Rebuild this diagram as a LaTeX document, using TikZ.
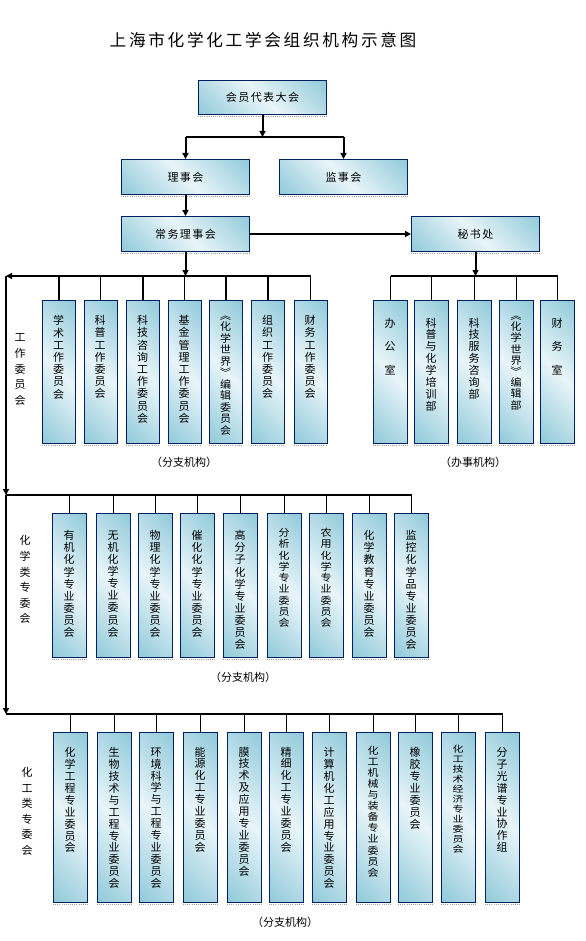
\documentclass[tikz,border=0pt]{standalone}
\usepackage{fontspec}
\usepackage{graphicx}
\usetikzlibrary{arrows.meta,calc}
\newfontfamily\cjk{Noto Sans CJK SC}
\newfontfamily\cjkh[LetterSpace=13]{Noto Sans CJK SC}
\newfontfamily\cjkt[LetterSpace=16]{Noto Sans CJK SC}
\definecolor{bdark}{RGB}{146,202,218}
\definecolor{blight}{RGB}{232,245,249}
\definecolor{bborder}{RGB}{0,32,96}
\pgfdeclarehorizontalshading{boxshade}{100bp}{color(0bp)=(bdark); color(15bp)=(bdark); color(50bp)=(blight); color(85bp)=(bdark); color(100bp)=(bdark)}
\def\vtextstop{VTEXTSTOP}
\def\vys{1}
\newcommand\vlq{\rotatebox[origin=c]{-90}{《}}
\newcommand\vrq{\rotatebox[origin=c]{-90}{》}}
\def\vtextloop#1{\ifx\vtextstop#1\relax\else\hbox to 1em{\vrule height .8em depth .2em width 0pt\hss\scalebox{1}[\vys]{#1}\hss}\expandafter\vtextloop\fi}
\newcommand\vtext[2][8.93pt]{\vbox{\baselineskip=#1\relax\lineskiplimit=-\maxdimen\lineskip=0pt\vtextloop#2\vtextstop}}
\tikzset{
  box/.style={draw=bborder, line width=0.75pt, shade, shading=boxshade, shading angle=45, inner sep=0pt},
  shadowline/.style={gray!75, densely dotted, line width=0.6pt},
  vtxt/.style={inner sep=0pt, font=\cjk\fontsize{8.25pt}{9pt}\selectfont},
  vlab/.style={inner sep=0pt, font=\cjk\fontsize{8.25pt}{9pt}\selectfont},
  htxt/.style={font=\cjkh\fontsize{8.25pt}{9pt}\selectfont},
  plab/.style={inner sep=0pt, font=\cjk\fontsize{8.25pt}{9pt}\selectfont},
  arr/.style={line width=1.5pt, -{Triangle[length=4.5pt,width=4.5pt]}},
  thickl/.style={line width=1.5pt},
  thinl/.style={line width=0.8pt},
}
% name, x1, y1, x2, y2, text
\newcommand\hbx[6]{%
  \node[box, htxt, anchor=north west, minimum width={(#4-#2)*0.75pt}, minimum height={(#5-#3)*0.75pt}] (#1) at (#2,#3) {#6};
  \draw[shadowline] ([yshift=-0.9pt]#1.south west) -- ([yshift=-0.9pt]#1.south east);}
% name, x1, top, bottom, width, text-north, pitch, yscale, text
\newcommand\vcol[9]{%
  \node[box, anchor=north west, minimum width={#5*0.75pt}, minimum height={(#4-#3)*0.75pt}] (#1) at (#2,#3) {};
  \draw[shadowline] ([yshift=-0.9pt]#1.south west) -- ([yshift=-0.9pt]#1.south east);
  \node[vtxt, anchor=north] (#1t) at ({#2+0.5*#5},#6) {\def\vys{#8}\vtext[#7]{#9}};}
\begin{document}
\begin{tikzpicture}[x=0.75pt, y=-0.75pt]
\fill[white] (0,0) rectangle (585,941);
\useasboundingbox (0,0) rectangle (585,941);

\node[font=\cjkt\fontsize{12.5pt}{14pt}\selectfont] (title) at (263,40) {上海市化学化工学会组织机构示意图};

% top hierarchy
\hbx{mem}{198}{80}{326}{114}{会员代表大会}
\hbx{lsh}{121}{159}{249}{194}{理事会}
\hbx{jsh}{279}{159}{407}{194}{监事会}
\hbx{cw}{121}{216}{249}{251}{常务理事会}
\hbx{msc}{411}{216}{539}{251}{秘书处}

% working committees
\vcol{w1}{42}{300}{443}{33}{315.2}{9.15pt}{1}{学术工作委员会}
\vcol{w2}{83.5}{300}{443}{33}{315.2}{9.15pt}{1}{科普工作委员会}
\vcol{w3}{126}{300}{443}{33}{315.2}{9.15pt}{1}{科技咨询工作委员会}
\vcol{w4}{167.5}{300}{443}{33}{315.2}{9.15pt}{1}{基金管理工作委员会}
\vcol{w5}{209}{300}{443}{33}{310}{8.6pt}{0.95}{\vlq 化学世界\vrq 编辑委员会}
\vcol{w6}{251}{300}{443}{33}{315.2}{9.15pt}{1}{组织工作委员会}
\vcol{w7}{293.5}{300}{443}{33}{315.2}{9.15pt}{1}{财务工作委员会}

% offices
\vcol{o1}{373}{300}{443}{34}{318}{17.6pt}{1}{办公室}
\vcol{o2}{414}{300}{443}{34}{317.5}{8.9pt}{1}{科普与化学培训部}
\vcol{o3}{457}{300}{443}{34}{317.5}{8.9pt}{1}{科技服务咨询部}
\vcol{o4}{499}{300}{443}{34}{310}{8.4pt}{0.95}{\vlq 化学世界\vrq 编辑部}
\vcol{o5}{540}{300}{443}{34}{318}{17.6pt}{1}{财务室}

% chemistry committees
\vcol{c1}{52}{513}{657}{34}{530.2}{9.08pt}{1}{有机化学专业委员会}
\vcol{c2}{96}{513}{657}{34}{530.2}{9.08pt}{1}{无机化学专业委员会}
\vcol{c3}{138}{513}{657}{34}{530.2}{9.08pt}{1}{物理化学专业委员会}
\vcol{c4}{180}{513}{657}{34}{530.2}{9.08pt}{1}{催化化学专业委员会}
\vcol{c5}{223}{513}{657}{34}{530.2}{9.08pt}{1}{高分子化学专业委员会}
\vcol{c6}{267}{513}{657}{34}{527.5}{8.44pt}{0.9}{分析化学专业委员会}
\vcol{c7}{309}{513}{657}{34}{527.5}{8.44pt}{0.9}{农用化学专业委员会}
\vcol{c8}{352}{513}{657}{34}{530.2}{9.08pt}{1}{化学教育专业委员会}
\vcol{c9}{394}{513}{657}{34}{530.2}{9.08pt}{1}{监控化学品专业委员会}

% engineering committees
\vcol{e1}{53}{732}{902}{34}{747.2}{8.93pt}{1}{化学工程专业委员会}
\vcol{e2}{97}{732}{902}{34}{747.2}{8.93pt}{1}{生物技术与工程专业委员会}
\vcol{e3}{139}{732}{902}{34}{747.2}{8.93pt}{1}{环境科学与工程专业委员会}
\vcol{e4}{183}{732}{902}{34}{746.5}{8.93pt}{1}{能源化工专业委员会}
\vcol{e5}{227}{732}{902}{34}{746.5}{8.93pt}{1}{膜技术及应用专业委员会}
\vcol{e6}{269}{732}{902}{34}{746.5}{8.93pt}{1}{精细化工专业委员会}
\vcol{e7}{312}{732}{902}{34}{747.2}{8.93pt}{1}{计算机化工应用专业委员会}
\vcol{e8}{356}{732}{902}{34}{745}{8.33pt}{0.9}{化工机械与装备专业委员会}
\vcol{e9}{398}{732}{902}{34}{747.2}{8.93pt}{1}{橡胶专业委员会}
\vcol{e10}{441}{732}{902}{34}{743.5}{7.5pt}{0.8}{化工技术经济专业委员会}
\vcol{e11}{485}{732}{902}{34}{747.2}{8.93pt}{1}{分子光谱专业协作组}

% side labels
\node[vlab, anchor=north] (lab1) at (20,332.4) {\vtext[11.85pt]{工作委员会}};
\node[vlab, anchor=north] (lab2) at (25,535.4) {\vtext[11.7pt]{化学类专委会}};
\node[vlab, anchor=north] (lab3) at (27,767.4) {\vtext[11.6pt]{化工类专委会}};

\node[plab] (p1) at (184,462) {（分支机构）};
\node[plab] (p2) at (473,462) {（办事机构）};
\node[plab] (p3) at (243,677) {（分支机构）};
\node[plab] (p4) at (285,922) {（分支机构）};

% connectors
\coordinate (b1) at (0,137);
\coordinate (b2) at (0,276);
\coordinate (sp0) at (6,276);
\coordinate (sp1) at (6,495);
\coordinate (sp2) at (6,714);

\draw[arr] (mem.south) -- (mem.south |- b1);
\draw[thinl] (lsh.north |- b1) -- (jsh.north |- b1);
\draw[arr] (lsh.north |- b1) -- (lsh.north);
\draw[arr] (jsh.north |- b1) -- (jsh.north);
\draw[arr] (lsh.south) -- (cw.north);
\draw[arr] (cw.east) -- (msc.west);

\draw[thickl] (cw.south |- b2) -- (w7.north |- b2);
\draw[arr] (cw.south |- b2) -- (sp0);
\draw[arr] (cw.south) -- (cw.south |- b2);
\foreach \n in {w1,w2,w3,w4,w5,w6,w7} \draw[thinl] (\n.north |- b2) -- (\n.north);

\draw[thinl] (o1.north |- b2) -- (o5.north |- b2);
\foreach \n in {o1,o2,o3,o4,o5} \draw[thinl] (\n.north |- b2) -- (\n.north);
\draw[arr] (msc.south) -- (msc.south |- b2);

\draw[arr] (sp0) -- (sp1);
\draw[arr] (sp1) -- (sp2);
\draw[thinl] (sp1) -- (c9.north |- sp1);
\foreach \n in {c1,c2,c3,c4,c5,c6,c7,c8,c9} \draw[thinl] (\n.north |- sp1) -- (\n.north);
\draw[thinl] (sp2) -- (e11.north |- sp2);
\foreach \n in {e1,e2,e3,e4,e5,e6,e7,e8,e9,e10,e11} \draw[thinl] (\n.north |- sp2) -- (\n.north);
\end{tikzpicture}
\end{document}
